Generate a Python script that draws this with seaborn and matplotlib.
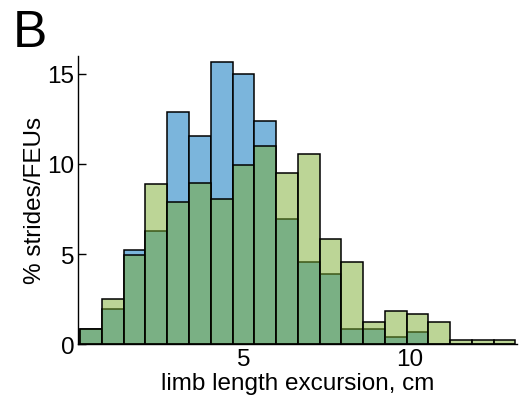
import numpy as np
import pandas as pd
import matplotlib
matplotlib.use("Agg")
import matplotlib.pyplot as plt
import seaborn as sns

# Bin edges (cm) and percentage of strides / FEUs per bin
bin_edges = np.linspace(0.07, 13.17, 21)
strides_pct = [0.83, 1.94, 5.20, 6.30, 12.85, 11.52, 15.67, 15.00, 12.40, 6.95,
               4.57, 3.91, 0.83, 0.86, 0.42, 0.66, 0.0, 0.0, 0.0, 0.0]
feus_pct = [0.83, 2.49, 4.96, 8.90, 7.87, 8.92, 8.07, 9.93, 10.98, 9.51,
            10.56, 5.81, 4.55, 1.23, 1.84, 1.66, 1.23, 0.22, 0.22, 0.22]
x_ticks = [5, 10]
y_ticks = [0, 5, 10, 15]

sns.set_style("ticks")
plt.rcParams["font.family"] = ["Liberation Sans", "DejaVu Sans"]
plt.rcParams["text.color"] = "black"
plt.rcParams["axes.labelcolor"] = "black"

centers = (bin_edges[:-1] + bin_edges[1:]) / 2
df = pd.DataFrame({"excursion": centers, "strides": strides_pct, "feus": feus_pct})

fig = plt.figure(figsize=(5.26, 4.10), dpi=100)
ax = fig.add_axes([0.148, 0.158, 0.835, 0.704])

sns.histplot(data=df, x="excursion", weights="strides", bins=list(bin_edges), ax=ax,
             color="#7bb5dc", alpha=1.0, edgecolor="black", linewidth=1.1)
sns.histplot(data=df, x="excursion", weights="feus", bins=list(bin_edges), ax=ax,
             color="#7aad2e", alpha=0.5, edgecolor="black", linewidth=1.1)

ax.set_xlim(0, 13.22)
ax.set_ylim(0, 16)
ax.set_xticks(x_ticks)
ax.set_yticks(y_ticks)
ax.tick_params(direction="in", length=5.5, width=1, labelsize=17.5,
               colors="black")
ax.tick_params(axis="y", pad=2.5)
ax.tick_params(axis="x", pad=3)
for side in ("top", "right"):
    ax.spines[side].set_visible(False)
for side in ("left", "bottom"):
    ax.spines[side].set_linewidth(1)
    ax.spines[side].set_color("black")

ax.set_xlabel("limb length excursion, cm", fontsize=17.5, labelpad=1)
ax.set_ylabel("% strides/FEUs", fontsize=17.5, labelpad=1)

fig.text(0.024, 0.886, "B", fontsize=37, ha="left", va="baseline", color="black")

fig.savefig("out.png", dpi=100)
